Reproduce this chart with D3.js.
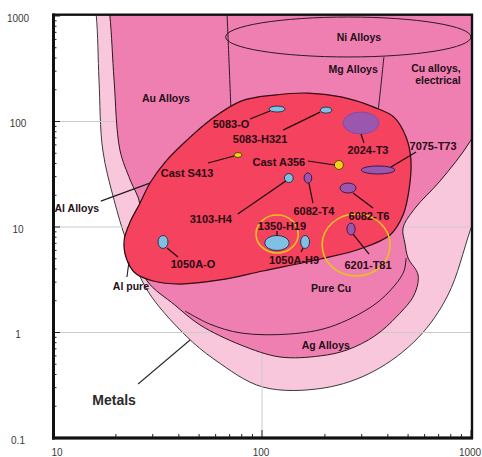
<!DOCTYPE html>
<html>
<head>
<meta charset="utf-8">
<script src="https://cdn.jsdelivr.net/npm/d3@7"></script>
<style>
  html, body { margin: 0; padding: 0; background: #fff; }
  svg { display: block; font-family: "Liberation Sans", Arial, Helvetica, sans-serif; }
</style>
</head>
<body>
<svg id="chart" width="482" height="457"></svg>
<script>
// ---- axes ----
const xDomain = [10, 1000];
const yDomain = [0.1, 1000];
const xTickValues = [10, 100, 1000];
const xTickLabels = ["10", "100", "1000"];
const yTickValues = [0.1, 1, 10, 100, 1000];
const yTickLabels = ["0.1", "1", "10", "100", "1000"];
const gridValuesY = [1, 10, 100];
const gridValuesX = [100];

// ---- property envelopes, outlines as [x, y] ----
const metalsEnvelope = [
  [15.0, 2730], [16.1, 1020], [16.6, 247], [17.3, 53.7], [19.6, 18.0], [22.4, 7.5],
  [28.2, 2.53], [42.8, 0.95], [59.6, 0.55], [101, 0.304], [198, 0.298], [343, 0.43],
  [558, 0.89], [776, 2.27], [1000, 9.8], [1380, 67], [1450, 590], [1100, 3400], [88, 4200]
];
const alloyFamilyEnvelope = [
  [17.5, 2730], [18.7, 1020], [19.6, 247], [20.9, 53.7], [23.4, 27.9], [26.1, 16.2],
  [24.7, 6.05], [28.2, 3.08], [38.3, 1.82], [50.5, 1.18], [79.4, 0.76], [122, 0.586],
  [190, 0.6], [255, 0.683], [347, 0.93], [443, 1.43], [534, 2.27], [558, 3.51],
  [500, 5.08], [483, 7.0], [473, 9.78], [540, 15.1], [711, 27.3], [1000, 66.8],
  [1300, 199], [1380, 917], [989, 2730], [88, 3400]
];
const aluminiumEnvelope = [
  [516, 43.2], [505, 22.4], [473, 13.0], [410, 8.4], [294, 6.19], [190, 4.97],
  [101, 3.83], [63, 3.15], [40.5, 2.88], [30.1, 3.08], [24.7, 3.66], [22.4, 5.08],
  [21.9, 7.53], [23.4, 11.2], [26.1, 16.9], [29.1, 26.1], [34.4, 41.3], [43.8, 66.8],
  [56.4, 103], [79.4, 156], [114, 178], [166, 186], [239, 171], [343, 137],
  [428, 110], [489, 71.3]
];
const auAlloysEdge = [[68.0, 1090], [69.5, 383], [71.1, 123]];
const mgCuDivider = [[383, 409], [371, 222], [359, 123]];
const pureCuEdge = [
  [42.8, 1.60], [56.4, 1.20], [79.4, 0.989], [136, 0.968], [212, 1.13],
  [343, 1.82], [433, 2.82], [478, 3.83], [489, 5.08]
];
const niAlloysX = [67, 1000];
const niAlloysY = [409, 978];

// ---- individual alloys: property ranges ----
const alloyNames = ["5083-O", "5083-H321", "Cast S413", "Cast A356", "2024-T3", "7075-T73",
  "3103-H4", "6082-T4", "6082-T6", "6201-T81", "1350-H19", "1050A-H9", "1050A-O"];
const alloyX = [[108, 129], [190, 216], [73.5, 80.2], [222, 245], [244, 363], [298, 433],
  [128, 141], [159, 173], [236, 282], [255, 279], [103, 135], [153, 169], [31.8, 35.5]];
const alloyY = [[123, 140], [120, 137], [45.6, 50.8], [35.1, 42.7], [76.1, 123], [31.8, 37.9],
  [26.4, 32.1], [26.1, 32.5], [21.0, 26.1], [8.4, 10.9], [5.99, 8.31], [6.26, 8.31], [6.26, 8.31]];
const alloyGroup = ["wrought", "wrought", "cast", "cast", "aged", "aged",
  "wrought", "aged", "aged", "aged", "wrought", "wrought", "wrought"];

// conductor grades ringed
const ringX = [[93.6, 149], [194, 410]];
const ringY = [[5.67, 13.0], [3.43, 13.3]];

// envelope names, anchored at [x, y]
const familyNames = ["Au Alloys", "Ni Alloys", "Mg Alloys", "Cu alloys,", "electrical", "Pure Cu", "Ag Alloys", "Al Alloys", "Al pure"];
const familyAnchors = [[34.7, 167], [291, 632], [273, 315], [680, 322], [695, 247], [214, 2.64], [202, 0.761], [13.0, 15.1], [23.6, 2.76]];
const metalsName = "Metals";
const metalsAnchor = [19.6, 0.229];

// ---- layout ----
const W = 482, H = 457;
const L = 53, R = 471, T = 16, B = 438;
const colors = {
  metals: "#f8c7dc", family: "#f07fb1", aluminium: "#f4425f",
  wrought: "#80c0e2", aged: "#9b56ae", cast: "#f1d11c", ring: "#e7c21f",
  ink: "#2a0a12", grid: "#cbcbcb"
};
// label offsets from the marker centre [dx, dy] and leader [x1, y1, x2, y2] (px)
const labelLayout = {
  "5083-O":    [-46, 15, [-27, 10, -7, 2]],
  "5083-H321": [-66, 29, [-43, 20, -6, 2]],
  "Cast S413": [-51, 18, [-30, 8, -4, 1]],
  "Cast A356": [-60, -3, [-31, -4, -4, 0]],
  "2024-T3":   [7, 27, [0, 11, 3, 20]],
  "7075-T73":  [55, -24, [13, -3, 38, -18]],
  "3103-H4":   [-78, 41, [-3, 3, -51, 36]],
  "6082-T4":   [6, 33, [1, 5, 5, 25]],
  "6082-T6":   [21, 28, [5, 5, 25, 20]],
  "6201-T81":  [17, 36, [2, 5, 18, 25]],
  "1350-H19":  [5, -17, [0, -12, 0, -7]],
  "1050A-H9":  [-11, 18, [-4, 10, -2, 6]],
  "1050A-O":   [30, 22, [4, 6, 15, 15]]
};
const familyLeaders = {
  "Al Alloys": [24, -7, 73, -25],
  "Al pure": [-4, -9, -2, -24]
};
const metalsLeader = [24, -16, 76, -60];

const x = d3.scaleLog().domain(xDomain).range([L, R]);
const y = d3.scaleLog().domain(yDomain).range([B, T]);

const svg = d3.select("#chart");
svg.append("rect").attr("width", W).attr("height", H).attr("fill", "#fff");

svg.append("defs").append("clipPath").attr("id", "plotArea")
  .append("rect").attr("x", L).attr("y", T - 1).attr("width", R - L).attr("height", B - T + 1);

const plot = svg.append("g").attr("clip-path", "url(#plotArea)");

const closedLine = d3.line().x(d => x(d[0])).y(d => y(d[1])).curve(d3.curveCatmullRomClosed.alpha(0.5));
const openLine = d3.line().x(d => x(d[0])).y(d => y(d[1])).curve(d3.curveCatmullRom.alpha(0.5));

function rangeEllipse(sel, xr, yr) {
  const x0 = x(xr[0]), x1 = x(xr[1]), y0 = y(yr[0]), y1 = y(yr[1]);
  return sel.attr("cx", (x0 + x1) / 2).attr("cy", (y0 + y1) / 2)
    .attr("rx", Math.abs(x1 - x0) / 2).attr("ry", Math.abs(y1 - y0) / 2);
}

// metals envelope
plot.append("path").attr("d", closedLine(metalsEnvelope))
  .attr("fill", colors.metals).attr("stroke", "#3a3a3a").attr("stroke-width", 1);

// grid
plot.selectAll("line.gy").data(gridValuesY).join("line").attr("class", "gy")
  .attr("x1", L).attr("x2", R).attr("y1", d => y(d)).attr("y2", d => y(d))
  .attr("stroke", colors.grid).attr("stroke-width", 1);
plot.selectAll("line.gx").data(gridValuesX).join("line").attr("class", "gx")
  .attr("x1", d => x(d)).attr("x2", d => x(d)).attr("y1", T).attr("y2", B)
  .attr("stroke", colors.grid).attr("stroke-width", 1);

// alloy families
plot.append("path").attr("d", closedLine(alloyFamilyEnvelope))
  .attr("fill", colors.family).attr("stroke", "#2a1a20").attr("stroke-width", 1);
plot.append("path").attr("d", openLine(auAlloysEdge))
  .attr("fill", "none").attr("stroke", "#2a1a20").attr("stroke-width", 1);
plot.append("path").attr("d", openLine(mgCuDivider))
  .attr("fill", "none").attr("stroke", "#2a1a20").attr("stroke-width", 1);
plot.append("path").attr("d", openLine(pureCuEdge))
  .attr("fill", "none").attr("stroke", "#2a1a20").attr("stroke-width", 1);
rangeEllipse(plot.append("ellipse"), niAlloysX, niAlloysY)
  .attr("fill", "none").attr("stroke", "#2a1a20").attr("stroke-width", 1);

// aluminium alloys
plot.append("path").attr("d", closedLine(aluminiumEnvelope))
  .attr("fill", colors.aluminium).attr("stroke", "#2a0a12").attr("stroke-width", 1.2);

// individual alloys
const alloys = alloyNames.map((n, i) => ({ name: n, xr: alloyX[i], yr: alloyY[i], group: alloyGroup[i] }));
const strokeFor = { wrought: "#24384c", aged: "#3c1c48", cast: "#5a4800" };
alloys.forEach(a => {
  const e = rangeEllipse(plot.append("ellipse"), a.xr, a.yr)
    .attr("fill", colors[a.group]).attr("stroke", strokeFor[a.group]).attr("stroke-width", 1);
  if (a.name === "2024-T3") e.attr("stroke", "#8a4a9e");
});

// rings
ringX.forEach((xr, i) => {
  rangeEllipse(plot.append("ellipse"), xr, ringY[i])
    .attr("fill", "none").attr("stroke", colors.ring).attr("stroke-width", 1.6);
});

// alloy labels with leaders
alloys.forEach(a => {
  const cx = (x(a.xr[0]) + x(a.xr[1])) / 2;
  const cy = (y(a.yr[0]) + y(a.yr[1])) / 2;
  const lay = labelLayout[a.name];
  const ld = lay[2];
  plot.append("line")
    .attr("x1", cx + ld[0]).attr("y1", cy + ld[1]).attr("x2", cx + ld[2]).attr("y2", cy + ld[3])
    .attr("stroke", "#1e0a10").attr("stroke-width", 1.2);
  plot.append("text").text(a.name)
    .attr("x", cx + lay[0]).attr("y", cy + lay[1])
    .attr("text-anchor", "middle").attr("dominant-baseline", "central")
    .attr("font-size", 11).attr("font-weight", "bold").attr("fill", colors.ink);
});

// family labels
familyNames.forEach((n, i) => {
  const px = x(familyAnchors[i][0]), py = y(familyAnchors[i][1]);
  const ld = familyLeaders[n];
  if (ld) {
    plot.append("line").attr("x1", px + ld[0]).attr("y1", py + ld[1]).attr("x2", px + ld[2]).attr("y2", py + ld[3])
      .attr("stroke", "#1e1e1e").attr("stroke-width", 1.1);
  }
  plot.append("text").text(n).attr("x", px).attr("y", py)
    .attr("text-anchor", "middle").attr("dominant-baseline", "central")
    .attr("font-size", 10.5).attr("font-weight", "bold").attr("fill", "#241018");
});

// metals label
{
  const px = x(metalsAnchor[0]), py = y(metalsAnchor[1]);
  plot.append("line").attr("x1", px + metalsLeader[0]).attr("y1", py + metalsLeader[1])
    .attr("x2", px + metalsLeader[2]).attr("y2", py + metalsLeader[3])
    .attr("stroke", "#2a2a2a").attr("stroke-width", 1.1);
  plot.append("text").text(metalsName).attr("x", px).attr("y", py)
    .attr("text-anchor", "middle").attr("dominant-baseline", "central")
    .attr("font-size", 14).attr("font-weight", "bold").attr("fill", "#2b2b2b");
}

// ticks
const axisG = svg.append("g");
const minorY = [];
[0.1, 1, 10, 100].forEach(d => { for (let k = 1; k <= 9; k++) minorY.push({ v: d * k, major: k === 1 }); });
minorY.push({ v: 1000, major: true });
axisG.selectAll("line.ty").data(minorY).join("line").attr("class", "ty")
  .attr("x1", L).attr("x2", d => L + (d.major ? 7 : 3.5))
  .attr("y1", d => y(d.v)).attr("y2", d => y(d.v))
  .attr("stroke", "#222").attr("stroke-width", 1);
const minorX = [];
[10, 100].forEach(d => { for (let k = 1; k <= 9; k++) minorX.push({ v: d * k, major: k === 1 }); });
minorX.push({ v: 1000, major: true });
axisG.selectAll("line.tx").data(minorX).join("line").attr("class", "tx")
  .attr("x1", d => x(d.v)).attr("x2", d => x(d.v))
  .attr("y1", B).attr("y2", d => B - (d.major ? 8 : 4))
  .attr("stroke", "#222").attr("stroke-width", 1);

// frame
axisG.append("rect").attr("x", L + 0.5).attr("y", T - 1.3).attr("width", R - L + 0.5).attr("height", B - T + 1.3)
  .attr("fill", "none").attr("stroke", "#111").attr("stroke-width", 2.4);
axisG.append("line").attr("x1", L + 0.5).attr("x2", L + 0.5).attr("y1", T - 2.5).attr("y2", B + 1.5)
  .attr("stroke", "#111").attr("stroke-width", 3);
axisG.append("line").attr("x1", L - 1).attr("x2", R + 2).attr("y1", B).attr("y2", B)
  .attr("stroke", "#111").attr("stroke-width", 3);

// tick labels
axisG.selectAll("text.ly").data(yTickValues).join("text").attr("class", "ly")
  .text((d, i) => yTickLabels[i])
  .attr("x", 18).attr("y", d => y(d) + 5.5)
  .attr("text-anchor", "middle").attr("font-size", 10).attr("fill", "#3a3a3a");
axisG.selectAll("text.lx").data(xTickValues).join("text").attr("class", "lx")
  .text((d, i) => xTickLabels[i])
  .attr("x", (d, i) => x(d) + (i === 0 ? 4 : -1)).attr("y", 456)
  .attr("text-anchor", "middle").attr("font-size", 10).attr("fill", "#3a3a3a");
</script>
</body>
</html>
